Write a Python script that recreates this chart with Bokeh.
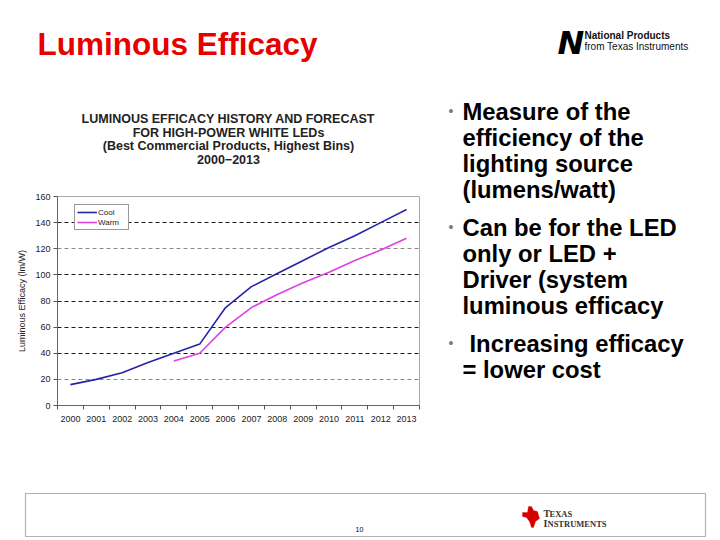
from bokeh.plotting import figure
from bokeh.layouts import column, row
from bokeh.models import (Label, Legend, LegendItem, FixedTicker, BoxAnnotation,
                          PolyAnnotation, Range1d, Grid)
from bokeh.embed import file_html
from bokeh.resources import INLINE

# ---------------- data ----------------
years = [2000, 2001, 2002, 2003, 2004, 2005, 2006, 2007, 2008, 2009, 2010, 2011, 2012, 2013]
cool = [16, 20, 25, 33, 40, 47, 75, 91, 101, 111, 121, 130, 140, 150]
warm_years = [2004, 2005, 2006, 2007, 2008, 2009, 2010, 2011, 2012, 2013]
warm = [34, 40, 60, 75, 85, 94, 102, 111, 119, 128]
y_ticks = [0, 20, 40, 60, 80, 100, 120, 140, 160]
chart_title = ["LUMINOUS EFFICACY HISTORY AND FORECAST",
               "FOR HIGH-POWER WHITE LEDs",
               "(Best Commercial Products, Highest Bins)",
               "2000\u22122013"]
bullets = [["Measure of the", "efficiency of the", "lighting source", "(lumens/watt)"],
           ["Can be for the LED", "only or LED +", "Driver (system", "luminous efficacy"],
           ["Increasing efficacy", "= lower cost"]]

FONT = "Liberation Sans"


def canvas(x0, y0, x1, y1, fx0=None, fx1=None):
    """A blank figure covering page pixels [x0,x1] x [y0,y1], drawn in page coordinates.
    fx0/fx1: page x-span of the frame when the frame is aligned with a sibling plot."""
    fx0 = x0 if fx0 is None else fx0
    fx1 = x1 if fx1 is None else fx1
    f = figure(width=x1 - x0, height=y1 - y0, output_backend="svg", toolbar_location=None,
               x_range=Range1d(fx0, fx1), y_range=Range1d(y1, y0),
               x_axis_location=None, y_axis_location=None, min_border=0)
    f.grid.visible = False
    f.outline_line_color = None
    f.background_fill_color = "white"
    f.border_fill_color = "white"
    return f


def lab(f, X, Y, text, size, color="#000000", style="normal", align="left",
        font=FONT):
    f.add_layout(Label(x=X, y=Y, text=text, text_font=font, text_font_size=size,
                       text_color=color, text_font_style=style,
                       text_align=align, text_baseline="middle"))


# ---------------- header ----------------
header = canvas(0, 0, 720, 92)
lab(header, 37, 43, "Luminous Efficacy", "31.5px", "#e60000", "bold")
lab(header, 557, 42, "N", "32px", "#000000", "bold italic", "left", font="DejaVu Sans")
lab(header, 584, 35, "National Products", "10px", "#111111", "bold")
lab(header, 584, 46, "from Texas Instruments", "10px", "#111111")

# ---------------- chart title (frame aligned with the chart's frame: 57..419) ----------------
ctitle = canvas(0, 92, 430, 170, 57, 419)
for i, t in enumerate(chart_title):
    lab(ctitle, 228, 118.3 + i * 13.7, t, "12.5px", "#222222", "bold", "center")

# ---------------- chart ----------------
CW, CH = 430, 270
p = figure(width=CW, height=CH, output_backend="svg", toolbar_location=None,
           x_range=Range1d(1999.5, 2013.5), y_range=Range1d(0, 160))
p.min_border_left = 57
p.min_border_right = CW - 57 - 362
p.min_border_top = 26
p.min_border_bottom = CH - 26 - 209
p.outline_line_color = "#a8a8a8"
p.background_fill_color = "white"
p.border_fill_color = "white"

p.xaxis.ticker = FixedTicker(ticks=years, minor_ticks=[y - 0.5 for y in years] + [2013.5])
p.xaxis.major_tick_line_color = None
p.xaxis.minor_tick_in = 0
p.xaxis.minor_tick_out = 4
p.xaxis.minor_tick_line_color = "#555555"
p.xaxis.axis_line_color = "#666666"
p.xaxis.major_label_text_font = FONT
p.xaxis.major_label_text_font_size = "9px"
p.xaxis.major_label_text_color = "#222222"
p.xaxis.major_label_standoff = 4

p.yaxis.ticker = FixedTicker(ticks=y_ticks)
p.yaxis.minor_tick_line_color = None
p.yaxis.major_tick_in = 0
p.yaxis.major_tick_out = 4
p.yaxis.major_tick_line_color = "#555555"
p.yaxis.axis_line_color = "#666666"
p.yaxis.major_label_text_font = FONT
p.yaxis.major_label_text_font_size = "9px"
p.yaxis.major_label_text_color = "#222222"
p.yaxis.major_label_standoff = 3
p.yaxis.axis_label = "Luminous Efficacy (lm/W)"
p.yaxis.axis_label_text_font = FONT
p.yaxis.axis_label_text_font_size = "9px"
p.yaxis.axis_label_text_font_style = "normal"
p.yaxis.axis_label_text_color = "#222222"
p.yaxis.axis_label_standoff = 5

p.xgrid.grid_line_color = None
p.ygrid.ticker = FixedTicker(ticks=[40, 60, 80, 100, 140])
p.ygrid.grid_line_color = "#1a1a1a"
p.ygrid.grid_line_dash = "4 3"
p.add_layout(Grid(dimension=1, ticker=FixedTicker(ticks=[20, 120]),
                  grid_line_color="#8a8a8a", grid_line_dash="4 3"))

r_cool = p.line(years, cool, line_color="#2424a8", line_width=1.6)
r_warm = p.line(warm_years, warm, line_color="#e040e0", line_width=1.6)

legend = Legend(items=[LegendItem(label="Cool", renderers=[r_cool]),
                       LegendItem(label="Warm", renderers=[r_warm])],
                location=(74 - 57, 405 - 230))
legend.padding = 2
legend.margin = 0
legend.spacing = 0
legend.glyph_width = 20
legend.glyph_height = 10
legend.label_height = 10
legend.label_width = 28
legend.label_standoff = 1
legend.label_text_font = FONT
legend.label_text_font_size = "8px"
legend.label_text_color = "#222222"
legend.border_line_color = "#333333"
legend.background_fill_alpha = 1
p.add_layout(legend, "center")

# ---------------- bullets ----------------
text = canvas(430, 92, 720, 440)
line_centers = [[111, 137, 163, 189], [227, 253, 279, 305], [343, 369]]
for bi, (block, ys) in enumerate(zip(bullets, line_centers)):
    lab(text, 448, ys[0] - 1, "\u2022", "14px", "#7a7a7a")
    for li, (line, yc) in enumerate(zip(block, ys)):
        x = 469 if (bi == 2 and li == 0) else 462
        lab(text, x, yc, line, "23.8px", "#000000", "bold")

# ---------------- footer ----------------
footer = canvas(0, 440, 720, 540)
footer.add_layout(BoxAnnotation(left=25, right=705, top=493, bottom=536,
                                fill_alpha=0, line_color="#000000", line_width=1.2))
lab(footer, 355, 529, "10", "7px", "#000000")
texas_x = [522, 527, 528, 531, 533, 537, 539, 535, 533, 531, 529, 526, 522]
texas_y = [512, 512, 506, 506, 510, 511, 518, 521, 527, 527, 521, 517, 516]
footer.add_layout(PolyAnnotation(xs=texas_x, ys=texas_y, fill_color="#d40000",
                                 fill_alpha=1, line_color="#d40000"))
lab(footer, 543, 513, "T", "10px", "#333333", "bold", font="Liberation Serif")
lab(footer, 549, 513.5, "EXAS", "8.5px", "#333333", "bold", font="Liberation Serif")
lab(footer, 543, 522.5, "I", "10px", "#333333", "bold", font="Liberation Serif")
lab(footer, 547, 523, "NSTRUMENTS", "8.5px", "#333333", "bold", font="Liberation Serif")

layout = column(header, row(column(ctitle, p), text), footer)
open("out.html", "w").write(file_html(layout, INLINE))
